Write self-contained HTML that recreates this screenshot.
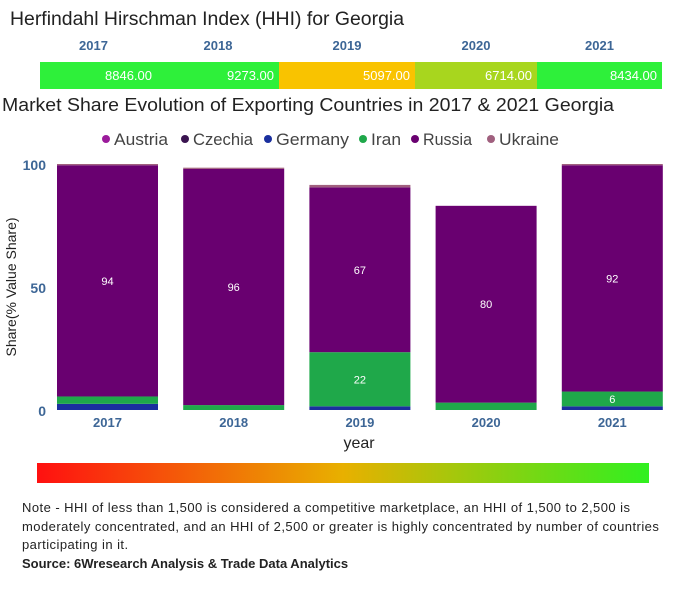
<!DOCTYPE html>
<html><head><meta charset="utf-8"><style>
body{margin:0;width:675px;height:600px;background:#fff;font-family:"Liberation Sans",sans-serif;overflow:hidden;position:relative}
.t{position:absolute;color:#222}
</style></head><body>
<svg id="svg" width="675" height="600" style="position:absolute;left:0;top:0"></svg>
<div class="t" style="left:22px;top:499px;width:660px;font-size:13px;line-height:18.5px;white-space:nowrap;letter-spacing:0.45px">Note - HHI of less than 1,500 is considered a competitive marketplace, an HHI of 1,500 to 2,500 is<br>moderately concentrated, and an HHI of 2,500 or greater is highly concentrated by number of countries<br>participating in it.<br><b style="letter-spacing:0">Source: 6Wresearch Analysis &amp; Trade Data Analytics</b></div>
<script>
const years=["2017","2018","2019","2020","2021"];
const hhi=[8846,9273,5097,6714,8434];
const hhiColors=["#2ef03a","#2ef03a","#f9c300","#a8d61e","#2ef03a"];
const seriesNames=["Austria","Czechia","Germany","Iran","Russia","Ukraine"];
const seriesColors=["#9b1b9b","#3a1450","#1a2f9e","#1fa84a","#690070","#a0607e"];
const austria=[0,0,0,0,0];
const czechia=[0,0,0,0,0];
const germany=[2.5,0,1.5,0,1.5];
const iran=[3,2,22,3,6];
const russia=[94,96,67,80,92];
const ukraine=[0.5,0.5,1,0,0.5];
const yTicks=[0,50,100];
const NS="http://www.w3.org/2000/svg";
const svg=document.getElementById('svg');
function mk(tag,attrs,txt){const e=document.createElementNS(NS,tag);for(const k in attrs)e.setAttribute(k,attrs[k]);if(txt!==undefined)e.textContent=txt;svg.appendChild(e);return e;}
let e=mk('text',{x:10,y:25,'font-size':19,fill:'#222',textLength:394,lengthAdjust:'spacingAndGlyphs'},'Herfindahl Hirschman Index (HHI) for Georgia');

e=mk('text',{x:2,y:111,'font-size':18,fill:'#222',textLength:612,lengthAdjust:'spacingAndGlyphs'},'Market Share Evolution of Exporting Countries in 2017 & 2021 Georgia');

const hx=[40,157,279,415,537,662];
years.forEach((y,i)=>{
  let r=mk('rect',{x:hx[i],y:62,width:hx[i+1]-hx[i],height:27,fill:hhiColors[i]});
  
  let t=mk('text',{x:hx[i+1]-5,y:80,'font-size':13,fill:'#fff','text-anchor':'end'},hhi[i].toFixed(2));
  
  let h=mk('text',{x:(hx[i]+hx[i+1])/2-(i==0?5:0),y:50,'font-size':13,'font-weight':'bold',fill:'#3d6696','text-anchor':'middle'},y);
  
});
const lx=[106,185,268,363,415,491];
const lw=[54,60,73,30,49,60];
seriesNames.forEach((n,i)=>{
  let c=mk('circle',{cx:lx[i],cy:139,r:4,fill:seriesColors[i]});
  
  let t=mk('text',{x:lx[i]+8,y:145,'font-size':17,fill:'#444',textLength:lw[i],lengthAdjust:'spacingAndGlyphs'},n);
  
});
const y0=410,ppu=2.46;
const Y=v=>y0-v*ppu;
const X=i=>57+i*126.2;
const bw=101;
yTicks.forEach(v=>{
  let t=mk('text',{x:46,y:Y(v)+6,'font-size':14,'font-weight':'bold',fill:'#3d6696','text-anchor':'end'},v);
  
});
e=mk('text',{x:0,y:0,'font-size':14,fill:'#222','text-anchor':'middle',transform:'translate(16,287) rotate(-90)'},'Share(% Value Share)');

e=mk('text',{x:359,y:448,'font-size':16,fill:'#222','text-anchor':'middle'},'year');

const series=[austria,czechia,germany,iran,russia,ukraine];
years.forEach((y,i)=>{
  let base=0;
  series.forEach((s,k)=>{
    const v=s[i];if(v<=0)return;
    let r=mk('rect',{x:X(i),y:Y(base+v),width:bw,height:v*ppu,fill:seriesColors[k]});
    
    if(v>=5){
      let t=mk('text',{x:X(i)+bw/2,y:Y(base+v/2)+4,'font-size':11,fill:'#fff','text-anchor':'middle'},v);
      
    }
    base+=v;
  });
  let t=mk('text',{x:X(i)+bw/2,y:427,'font-size':13,'font-weight':'bold',fill:'#3d6696','text-anchor':'middle'},y);
  
});
const d=mk('defs',{});
d.innerHTML='<linearGradient id="g" x1="0" x2="1"><stop offset="0" stop-color="#ff1010"/><stop offset="0.5" stop-color="#e8b000"/><stop offset="1" stop-color="#30f020"/></linearGradient>';
e=mk('rect',{x:37,y:463,width:612,height:20,fill:'url(#g)'});

</script>
</body></html>
